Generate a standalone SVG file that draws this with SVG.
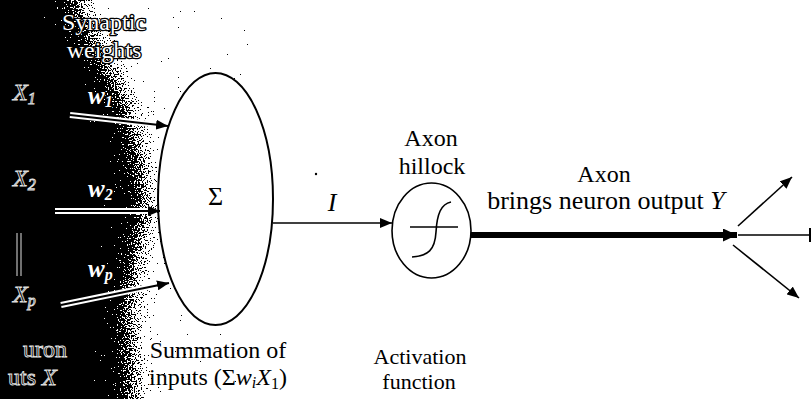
<svg xmlns="http://www.w3.org/2000/svg" width="812" height="399" viewBox="0 0 812 399">
<style>
  .lab { font-size: 24px; fill: #000; }
  .out { fill: #fff; stroke: #000; stroke-width: 2.6; paint-order: stroke; stroke-linejoin: round; }
  .hollow { fill: none; stroke: #e0e0e0; stroke-width: 0.9; }
  .ln { stroke: #000; stroke-width: 1.6; fill: none; }
  .dbl { stroke: #fff; stroke-width: 6; fill: none; }
  .dblc { stroke: #000; stroke-width: 2; fill: none; }
</style>
<defs>
  <marker id="ah" viewBox="0 0 12 10" refX="12" refY="5" markerWidth="12" markerHeight="10" orient="auto" markerUnits="userSpaceOnUse">
    <path d="M0,0 L12,5 L0,10 Z" fill="#000"/>
  </marker>
  <marker id="ahb" viewBox="0 0 14 13" refX="14" refY="6.5" markerWidth="14" markerHeight="13" orient="auto" markerUnits="userSpaceOnUse">
    <path d="M0,0 L14,6.5 L0,13 Z" fill="#000"/>
  </marker>
  <filter id="dither" x="-0.3" y="-0.1" width="1.8" height="1.2" color-interpolation-filters="sRGB">
    <feGaussianBlur in="SourceAlpha" stdDeviation="17" result="b"/>
    <feTurbulence type="fractalNoise" baseFrequency="0.7" numOctaves="2" seed="5" result="n"/>
    <feColorMatrix in="n" type="matrix" values="0 0 0 0 0  0 0 0 0 0  0 0 0 0 0  1.6 0 0 0 -0.3" result="na"/>
    <feComposite in="b" in2="na" operator="arithmetic" k2="1" k3="-1" k4="0.5" result="d"/>
    <feComponentTransfer in="d" result="th"><feFuncA type="discrete" tableValues="0 1"/></feComponentTransfer>
    <feFlood flood-color="#000" result="blk"/>
    <feComposite in="blk" in2="th" operator="in"/>
  </filter>
</defs>
<rect width="812" height="399" fill="#fff"/>
<g id="background">
  <path d="M-60,-60 L70,-60 L75,0 C88,30 110,70 125,100 C135,125 142,160 145,200 C146,230 138,250 134,270 C130,300 128,330 132,360 L135,460 L-60,460 Z" fill="#000" filter="url(#dither)"/>
</g>

<g id="inputs-labels">
  <text class="out" x="104" y="30" font-family="Liberation Serif" font-size="24" text-anchor="middle">Synaptic</text>
  <text class="out" x="104" y="58" font-family="Liberation Serif" font-size="24" text-anchor="middle">weights</text>
  <text class="out" x="88" y="104" font-family="Liberation Serif" font-size="25" font-style="italic" font-weight="bold">w<tspan font-size="16" dy="3">1</tspan></text>
  <text class="out" x="88" y="197" font-family="Liberation Serif" font-size="25" font-style="italic" font-weight="bold">w<tspan font-size="16" dy="3">2</tspan></text>
  <text class="out" x="88" y="277" font-family="Liberation Serif" font-size="25" font-style="italic" font-weight="bold">w<tspan font-size="16" dy="3">p</tspan></text>
  <text class="hollow" x="13" y="100" font-family="Liberation Serif" font-size="24" font-style="italic">X<tspan font-size="16" dy="4">1</tspan></text>
  <text class="hollow" x="13" y="186" font-family="Liberation Serif" font-size="24" font-style="italic">X<tspan font-size="16" dy="4">2</tspan></text>
  <line x1="17" y1="233" x2="17" y2="276" stroke="#e0e0e0" stroke-width="1"/>
  <line x1="21" y1="233" x2="21" y2="276" stroke="#e0e0e0" stroke-width="1"/>
  <text class="hollow" x="13" y="302" font-family="Liberation Serif" font-size="24" font-style="italic">X<tspan font-size="16" dy="4">p</tspan></text>
  <text class="hollow" x="23" y="357" font-family="Liberation Serif" font-size="24">uron</text>
  <text class="hollow" x="8" y="385" font-family="Liberation Serif" font-size="24">uts <tspan font-style="italic">X</tspan></text>
</g>

<g id="summation">
  <ellipse cx="215.5" cy="199" rx="57.5" ry="126" fill="#fff" stroke="#000" stroke-width="2"/>
  <text class="lab" x="215.5" y="205" font-family="Liberation Serif" style="font-family:'Liberation Serif',serif;font-size:26px" text-anchor="middle">Σ</text>
  <text class="lab" x="218" y="358" font-family="Liberation Serif" style="font-family:'Liberation Serif',serif" text-anchor="middle">Summation of</text>
  <text class="lab" x="218" y="385" font-family="Liberation Serif" style="font-family:'Liberation Serif',serif" text-anchor="middle">inputs (Σ<tspan font-style="italic">w</tspan><tspan font-size="16" font-style="italic" dy="3">i</tspan><tspan font-style="italic" dy="-3">X</tspan><tspan font-size="16" dy="4">1</tspan><tspan dy="-4">)</tspan></text>
</g>

<g id="input-I">
  <text class="lab" x="332" y="211" font-family="Liberation Serif" style="font-family:'Liberation Serif',serif;font-size:26px" font-style="italic" text-anchor="middle">I</text>
  <circle cx="316" cy="174" r="1.2" fill="#000"/>
</g>

<g id="hillock">
  <ellipse cx="431.5" cy="230.5" rx="39.5" ry="47.5" fill="#fff" stroke="#000" stroke-width="1.6"/>
  <line x1="410" y1="227" x2="458" y2="227" stroke="#000" stroke-width="1.6"/>
  <path d="M412,257 C428,256 435,250 436,232 C437,214 441,204 451,202" fill="none" stroke="#000" stroke-width="1.6"/>
  <text class="lab" x="431" y="146" font-family="Liberation Serif" style="font-family:'Liberation Serif',serif" text-anchor="middle">Axon</text>
  <text class="lab" x="432" y="174" font-family="Liberation Serif" style="font-family:'Liberation Serif',serif" text-anchor="middle">hillock</text>
  <text class="lab" x="420" y="364" font-family="Liberation Serif" style="font-family:'Liberation Serif',serif;font-size:22px" text-anchor="middle">Activation</text>
  <text class="lab" x="419" y="389" font-family="Liberation Serif" style="font-family:'Liberation Serif',serif;font-size:22px" text-anchor="middle">function</text>
</g>

<g id="axon">
  <text class="lab" x="604" y="182" font-family="Liberation Serif" style="font-family:'Liberation Serif',serif" text-anchor="middle">Axon</text>
  <text class="lab" x="606" y="209" font-family="Liberation Serif" style="font-family:'Liberation Serif',serif;font-size:26px" text-anchor="middle">brings neuron output <tspan font-style="italic">Y</tspan></text>
</g>

<g id="connectors">
  <line class="dbl" x1="70" y1="115" x2="156" y2="124.5"/>
  <line class="dblc" x1="70" y1="115" x2="168" y2="126" marker-end="url(#ah)"/>
  <line class="dbl" x1="55" y1="211" x2="148" y2="211"/>
  <line class="dblc" x1="55" y1="211" x2="160" y2="211" marker-end="url(#ah)"/>
  <line class="dbl" x1="61" y1="305" x2="158" y2="285"/>
  <line class="dblc" x1="61" y1="305" x2="169" y2="283" marker-end="url(#ah)"/>
  <line class="ln" x1="273" y1="223" x2="392" y2="223" marker-end="url(#ah)"/>
  <line x1="471" y1="235" x2="737" y2="235" stroke="#000" stroke-width="6" marker-end="url(#ahb)"/>
  <line class="ln" x1="738" y1="226" x2="792" y2="177" marker-end="url(#ah)"/>
  <line class="ln" x1="738" y1="235" x2="810" y2="235"/>
  <line x1="810" y1="228" x2="810" y2="242" stroke="#000" stroke-width="2"/>
  <line class="ln" x1="733" y1="245" x2="799" y2="298" marker-end="url(#ah)"/>
</g>
</svg>
